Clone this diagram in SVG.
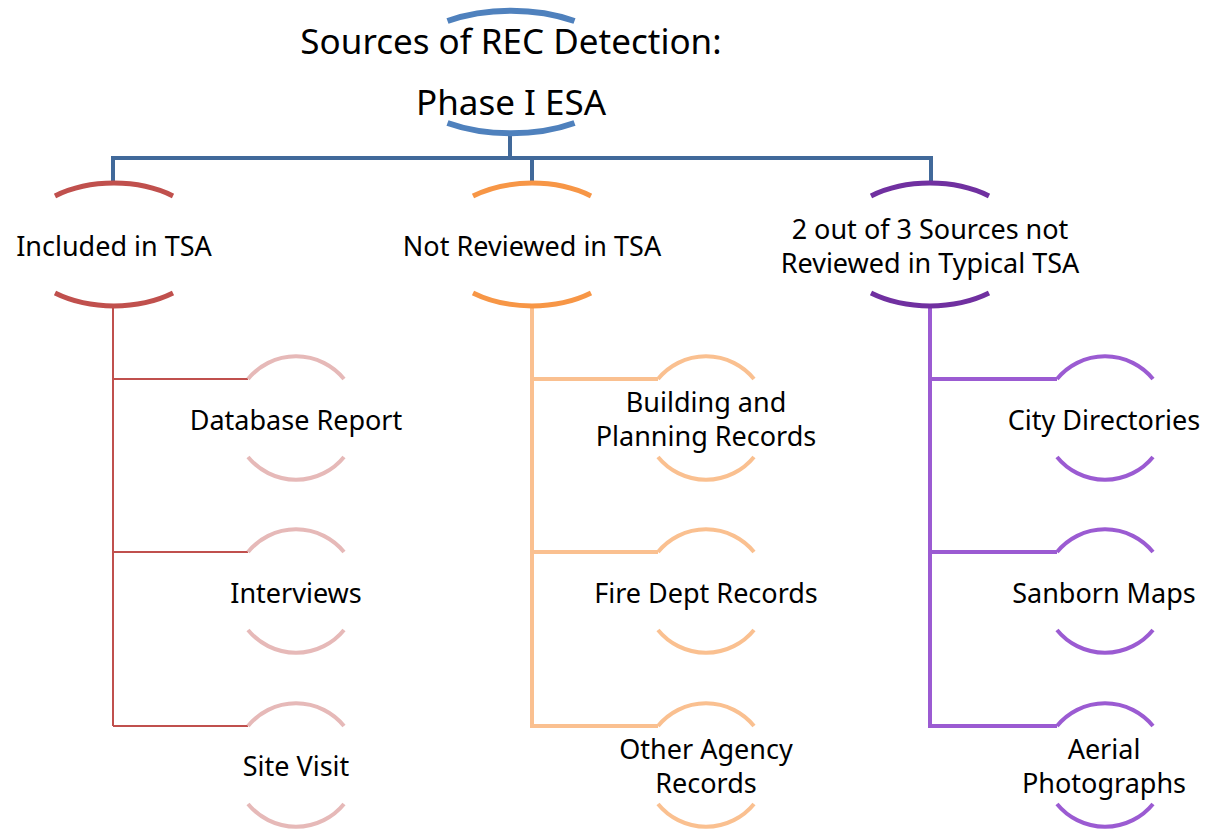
<svg xmlns="http://www.w3.org/2000/svg" width="1207" height="830" viewBox="0 0 1207 830">
<style>
text{font-family:"Noto Sans","Open Sans","Liberation Sans",sans-serif;fill:#000;text-anchor:middle}
.t0{font-size:35px}
.t1{font-size:27px}
.arc{fill:none;stroke-linecap:butt}
.blue{stroke:#4F81BD;stroke-width:6}
.red1{stroke:#C0504D;stroke-width:5}
.ora1{stroke:#F79646;stroke-width:5}
.pur1{stroke:#7030A0;stroke-width:5}
.red2{stroke:#E6B9B8;stroke-width:4}
.ora2{stroke:#FAC090;stroke-width:4}
.pur2{stroke:#9B5BD2;stroke-width:4}
.c{fill:none;stroke-linejoin:miter}
</style>
<rect width="1207" height="830" fill="#fff"/>
<g id="connectors">
<path class="c" d="M510 134V158M113 183V158H931V183M532 158V183" stroke="#41699A" stroke-width="4"/>
<path class="c" d="M113 305V726M113 379H248M113 552H248M113 726H248" stroke="#C0504D" stroke-width="2"/>
<path class="c" d="M532 305V726H658M532 379H658M532 552H658" stroke="#FAC090" stroke-width="4"/>
<path class="c" d="M930 305V726H1057M930 379H1057M930 552H1057" stroke="#9B5BD2" stroke-width="4"/>
</g>
<g id="root">
<path class="arc blue" d="M447.5 21A115 62 0 0 1 574.5 21"/>
<path class="arc blue" d="M447.5 123A115 62 0 0 0 574.5 123"/>
<text class="t0" x="511" y="54">Sources of REC Detection:</text>
<text class="t0" x="511" y="115">Phase I ESA</text>
</g>
<g id="n-included">
<path class="arc red1" d="M55 196A96 61 0 0 1 173 196"/>
<path class="arc red1" d="M55 293A96 61 0 0 0 173 293"/>
<text class="t1" x="114" y="256">Included in TSA</text>
</g>
<g id="n-notreviewed">
<path class="arc ora1" d="M473 196A96 61 0 0 1 591 196"/>
<path class="arc ora1" d="M473 293A96 61 0 0 0 591 293"/>
<text class="t1" x="532" y="256">Not Reviewed in TSA</text>
</g>
<g id="n-twoofthree">
<path class="arc pur1" d="M871 196A96 61 0 0 1 989 196"/>
<path class="arc pur1" d="M871 293A96 61 0 0 0 989 293"/>
<text class="t1" x="930" y="239">2 out of 3 Sources not</text>
<text class="t1" x="930" y="273">Reviewed in Typical TSA</text>
</g>
<g id="n-database">
<path class="arc red2" d="M248 379A62 62 0 0 1 344 379"/>
<path class="arc red2" d="M248 457A62 62 0 0 0 344 457"/>
<text class="t1" x="296" y="430">Database Report</text>
</g>
<g id="n-interviews">
<path class="arc red2" d="M248 552A62 62 0 0 1 344 552"/>
<path class="arc red2" d="M248 630A62 62 0 0 0 344 630"/>
<text class="t1" x="296" y="603">Interviews</text>
</g>
<g id="n-sitevisit">
<path class="arc red2" d="M248 726A62 62 0 0 1 344 726"/>
<path class="arc red2" d="M248 804A62 62 0 0 0 344 804"/>
<text class="t1" x="296" y="776">Site Visit</text>
</g>
<g id="n-building">
<path class="arc ora2" d="M658 379A62 62 0 0 1 754 379"/>
<path class="arc ora2" d="M658 457A62 62 0 0 0 754 457"/>
<text class="t1" x="706" y="412">Building and</text>
<text class="t1" x="706" y="446">Planning Records</text>
</g>
<g id="n-fire">
<path class="arc ora2" d="M658 552A62 62 0 0 1 754 552"/>
<path class="arc ora2" d="M658 630A62 62 0 0 0 754 630"/>
<text class="t1" x="706" y="603">Fire Dept Records</text>
</g>
<g id="n-otheragency">
<path class="arc ora2" d="M658 726A62 62 0 0 1 754 726"/>
<path class="arc ora2" d="M658 804A62 62 0 0 0 754 804"/>
<text class="t1" x="706" y="759">Other Agency</text>
<text class="t1" x="706" y="793">Records</text>
</g>
<g id="n-city">
<path class="arc pur2" d="M1057 379A62 62 0 0 1 1153 379"/>
<path class="arc pur2" d="M1057 457A62 62 0 0 0 1153 457"/>
<text class="t1" x="1104" y="430">City Directories</text>
</g>
<g id="n-sanborn">
<path class="arc pur2" d="M1057 552A62 62 0 0 1 1153 552"/>
<path class="arc pur2" d="M1057 630A62 62 0 0 0 1153 630"/>
<text class="t1" x="1104" y="603">Sanborn Maps</text>
</g>
<g id="n-aerial">
<path class="arc pur2" d="M1057 726A62 62 0 0 1 1153 726"/>
<path class="arc pur2" d="M1057 804A62 62 0 0 0 1153 804"/>
<text class="t1" x="1104" y="759">Aerial</text>
<text class="t1" x="1104" y="793">Photographs</text>
</g>
</svg>
